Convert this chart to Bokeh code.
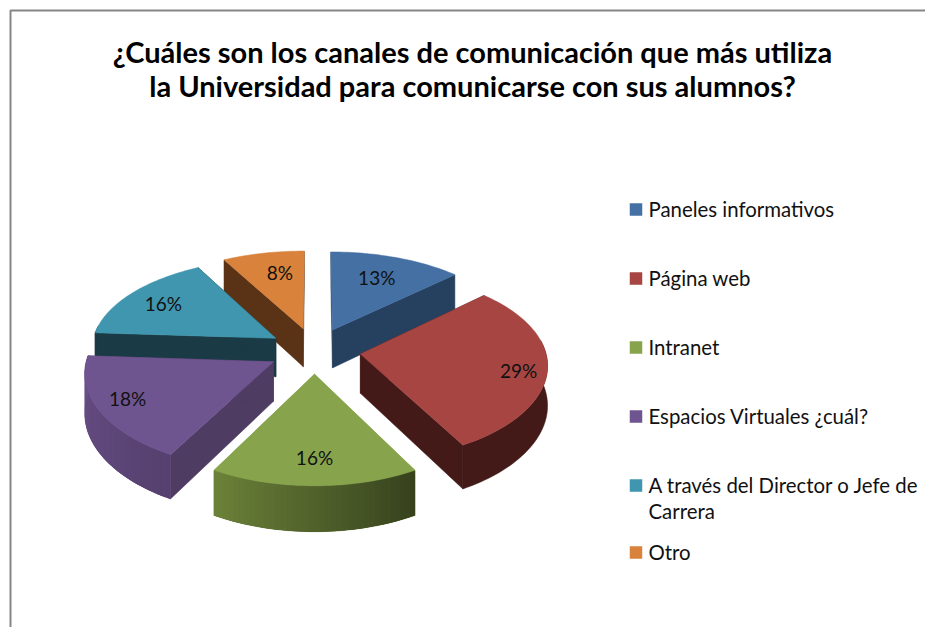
import math
from bokeh.embed import file_html
from bokeh.models import Range1d
from bokeh.plotting import figure
from bokeh.resources import INLINE
from bokeh.core.properties import value

title_lines = ["¿Cuáles son los canales de comunicación que más utiliza",
               "la Universidad para comunicarse con sus alumnos?"]
categories = ["Paneles informativos", "Página web", "Intranet",
              "Espacios Virtuales ¿cuál?", "A través del Director o Jefe de\nCarrera", "Otro"]
shares = [13, 29, 16, 18, 16, 8]
top_colors = ["#4470a4", "#a64542", "#87a44d", "#6f5590", "#3f96ae", "#d8823b"]
cut_colors = ["#26405f", "#431a18", "#87a44d", "#4f3c62", "#1a3a45", "#5a3216"]
side_left = ["#26405f", "#431a18", "#6c8239", "#6a5088", "#1a3a45", "#5a3216"]
side_right = ["#26405f", "#431a18", "#36411d", "#55406f", "#1a3a45", "#5a3216"]

# scene geometry, in screen pixels
CX, CY = 314.0, 350.0
RX, RY = 185.0, 92.0
PERSP_X, PERSP_Y = 0.10, 0.12
DEPTH = 39.0
EXPLODE = 0.25
FONT = "Lato"
LABEL_FRAC = [0.70, 0.85, 0.77, 0.83, 0.77, 0.72]
LABEL_TURN = [-1, 2.5, 0, 2, 0, 3]


def project(px, pz, drop=0.0):
    sx = 1.0 / (1.0 + PERSP_X * pz)
    sy = 1.0 / (1.0 + PERSP_Y * pz)
    return CX + RX * px * sx, CY - RY * pz * sy + drop * sy


def mix(a, b, t):
    ca = [int(a[i:i + 2], 16) for i in (1, 3, 5)]
    cb = [int(b[i:i + 2], 16) for i in (1, 3, 5)]
    return "#%02x%02x%02x" % tuple(round(u + (v - u) * t) for u, v in zip(ca, cb))


p = figure(width=925, height=627, x_range=Range1d(0, 925), y_range=Range1d(627, 0),
           output_backend="svg", toolbar_location=None, min_border=0,
           background_fill_color="white", border_fill_color="white",
           styles={"position": "absolute", "left": "0px", "top": "0px"})
p.axis.visible = False
p.grid.visible = False
p.outline_line_color = None

# chart frame
p.line([10, 10, 925], [627, 10, 10], line_color="#868686", line_width=2)

total = sum(shares)
slices = []
acc = 0.0
for i, v in enumerate(shares):
    a0 = acc / total * 2 * math.pi
    acc += v
    a1 = acc / total * 2 * math.pi
    slices.append((i, a0, a1))

labels = []
for i, a0, a1 in sorted(slices, key=lambda s: -math.cos((s[1] + s[2]) / 2)):
    mid = (a0 + a1) / 2
    ox, oz = EXPLODE * math.sin(mid), EXPLODE * math.cos(mid)
    n = max(6, int((a1 - a0) / math.radians(1.5)))
    angs = [a0 + (a1 - a0) * k / n for k in range(n + 1)]
    pts = [(ox + math.sin(t), oz + math.cos(t)) for t in angs]
    apex = (ox, oz)

    # cut faces
    for end in (pts[0], pts[-1]):
        q = [project(*apex), project(*end), project(*end, DEPTH), project(*apex, DEPTH)]
        p.patch([c[0] for c in q], [c[1] for c in q], fill_color=cut_colors[i],
                line_color=cut_colors[i], line_width=0.5)

    # outer curved wall: one base shape, then shading from left to right
    front = [k for k in range(n) if math.cos((angs[k] + angs[k + 1]) / 2) <= 0.15]
    if front:
        rim = [pts[k] for k in front] + [pts[front[-1] + 1]]
        wall = [project(*q) for q in rim] + [project(*q, DEPTH) for q in reversed(rim)]
        base = mix(side_left[i], side_right[i], 0.5)
        p.patch([c[0] for c in wall], [c[1] for c in wall], fill_color=base,
                line_color=base, line_width=0.5)
        if side_left[i] != side_right[i]:
            xs, ys, cols = [], [], []
            for k in front:
                far = min(k + 2, n)
                q = [project(*pts[k]), project(*pts[k + 1]), project(*pts[far]),
                     project(*pts[far], DEPTH), project(*pts[k + 1], DEPTH), project(*pts[k], DEPTH)]
                xs.append([c[0] for c in q])
                ys.append([c[1] for c in q])
                cols.append(mix(side_left[i], side_right[i], 1 - (k + 0.5) / n))
            p.patches(xs, ys, fill_color=cols, line_color=None)

    # top face
    outline = [project(*apex)] + [project(*q) for q in pts]
    p.patch([c[0] for c in outline], [c[1] for c in outline], fill_color=top_colors[i],
            line_color=top_colors[i], line_width=0.5)

    lt = mid + math.radians(LABEL_TURN[i])
    labels.append((*project(ox + LABEL_FRAC[i] * math.sin(lt), oz + LABEL_FRAC[i] * math.cos(lt)),
                   "%d%%" % shares[i]))

p.text([l[0] for l in labels], [l[1] for l in labels], text=[l[2] for l in labels],
       text_font=value(FONT), text_font_size="19px", text_color="#111111",
       text_align="center", text_baseline="middle")

# title
p.text([472, 472], [51, 85], text=title_lines, text_font=value(FONT), text_font_style="bold",
       text_font_size="29px", text_color="#000000", text_align="center", text_baseline="middle")

# legend
legend_y = [208, 277, 346, 415, 484, 551]
p.rect([635.5] * 6, [y + 1 for y in legend_y], width=12.5, height=12.5, fill_color=top_colors, line_color=None)
tx, ty, tt = [], [], []
for cat, y in zip(categories, legend_y):
    for j, line in enumerate(cat.split("\n")):
        tx.append(648)
        ty.append(y + 26 * j)
        tt.append(line)
p.text(tx, ty, text=tt, text_font=value(FONT), text_font_size="20.4px", text_color="#111111",
       text_align="left", text_baseline="middle")

open("out.html", "w").write(file_html(p, INLINE))
